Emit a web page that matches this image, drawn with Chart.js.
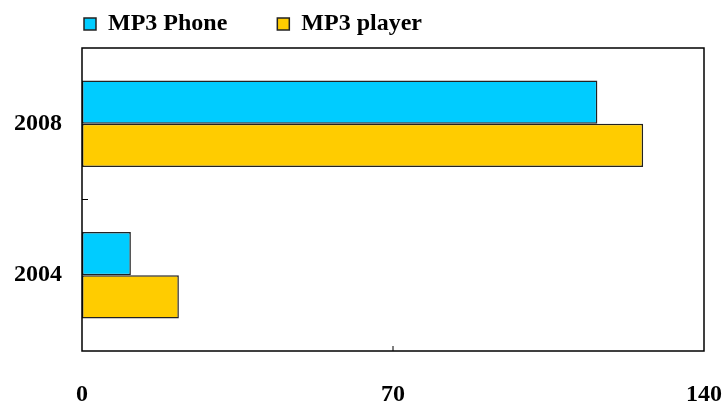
<!DOCTYPE html>
<html>
<head>
<meta charset="utf-8">
<script src="https://cdn.jsdelivr.net/npm/chart.js@4"></script>
<style>
  html, body { margin: 0; padding: 0; background: #fff; }
  .wrap { width: 724px; height: 401px; position: relative; }
</style>
</head>
<body>
<div class="wrap"><canvas id="myChart"></canvas></div>
<script>
var years = ["2008", "2004"];
var mp3Phone = [116, 11];
var mp3Player = [126.3, 21.8];
var xTicks = [0, 70, 140];

// frame around the plot plus the small inward ticks
var framePlugin = {
  id: "frame",
  beforeLayout: function (chart) {
    var lg = chart.legend;
    if (lg && !lg._fixed) {
      var fit = lg.fit;
      lg.fit = function () {
        fit.call(this);
        this.height = 46;
      };
      lg._fixed = true;
    }
  },
  afterLayout: function (chart) {
    // legend sits above the plot, starting at its left edge
    var lg = chart.legend;
    lg.left += 34;
    lg.right += 34;
    lg.top -= 40;
  },
  afterDatasetsDraw: function (chart) {
    var ctx = chart.ctx;
    var a = chart.chartArea;
    var x = chart.scales.x;
    var y = chart.scales.y;
    ctx.save();
    ctx.strokeStyle = "#000";
    ctx.lineWidth = 1.5;
    ctx.strokeRect(a.left, a.top, a.right - a.left, a.bottom - a.top);
    ctx.lineWidth = 1;
    var mx = x.getPixelForValue(70);
    ctx.beginPath();
    ctx.moveTo(mx, a.bottom);
    ctx.lineTo(mx, a.bottom - 5);
    var my = (y.getPixelForValue(0) + y.getPixelForValue(1)) / 2;
    ctx.moveTo(a.left, my);
    ctx.lineTo(a.left + 6, my);
    ctx.stroke();
    ctx.restore();
  }
};

var tickFont = { family: "'Liberation Serif', 'Times New Roman', serif", weight: "bold", size: 24 };
var legendFont = { family: "'Liberation Serif', 'Times New Roman', serif", weight: "bold", size: 24 };

new Chart(document.getElementById("myChart"), {
  type: "bar",
  data: {
    labels: years,
    datasets: [
      {
        label: "MP3 Phone",
        data: mp3Phone,
        backgroundColor: "#00ccff",
        borderColor: "#222",
        borderWidth: 1.5,
        borderSkipped: false
      },
      {
        label: "MP3 player",
        data: mp3Player,
        backgroundColor: "#ffcc00",
        borderColor: "#222",
        borderWidth: 1.5,
        borderSkipped: false
      }
    ]
  },
  options: {
    indexAxis: "y",
    responsive: true,
    maintainAspectRatio: false,
    animation: false,
    categoryPercentage: 0.57,
    barPercentage: 1,
    layout: { padding: { left: 0, right: 20, top: 2, bottom: 0 } },
    plugins: {
      legend: {
        align: "start",
        labels: {
          color: "#000",
          font: legendFont,
          boxWidth: 12,
          boxHeight: 12,
          padding: 50
        }
      },
      tooltip: { enabled: false }
    },
    scales: {
      x: {
        min: 0,
        max: 140,
        afterBuildTicks: function (scale) {
          scale.ticks = xTicks.map(function (v) { return { value: v }; });
        },
        grid: { display: false },
        border: { display: false },
        ticks: { color: "#000", font: tickFont, padding: 21 },
        afterFit: function (scale) {
          scale.height = 50;
          scale.paddingLeft = 0;
          scale.paddingRight = 0;
        }
      },
      y: {
        grid: { display: false },
        border: { display: false },
        ticks: { color: "#000", font: tickFont, padding: 12 },
        afterFit: function (scale) { scale.width = 82; }
      }
    }
  },
  plugins: [framePlugin]
});
</script>
</body>
</html>
